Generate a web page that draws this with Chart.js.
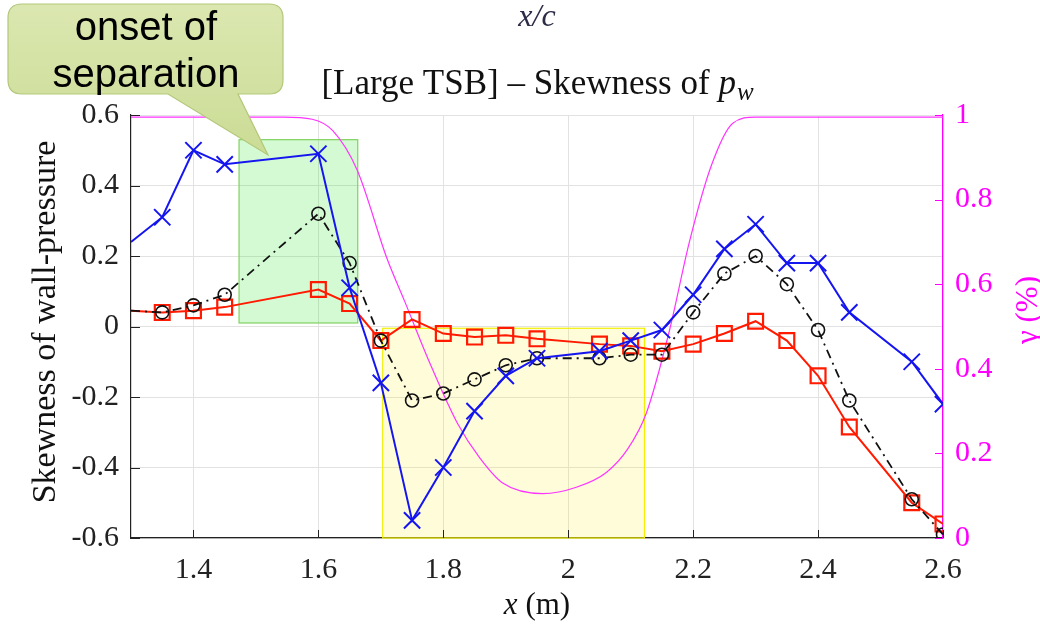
<!DOCTYPE html>
<html><head><meta charset="utf-8">
<script src="https://cdn.jsdelivr.net/npm/chart.js@4/dist/chart.umd.min.js"></script>
<style>html,body{margin:0;padding:0;background:#fff;overflow:hidden}#wrap{width:1040px;height:627px;position:relative}</style>
</head><body><div id="wrap"><canvas id="c" width="1040" height="627"></canvas></div>
<script>
// ---- data ----
const xPos = [1.30,1.35,1.40,1.45,1.60,1.65,1.70,1.75,1.80,1.85,1.90,1.95,2.05,2.10,2.15,2.20,2.25,2.30,2.35,2.40,2.45,2.55,2.60];
const skewBlue  = [0.24,0.31,0.50,0.46,0.49,0.11,-0.16,-0.55,-0.40,-0.24,-0.14,-0.09,-0.07,-0.04,-0.01,0.09,0.22,0.29,0.18,0.18,0.04,-0.10,-0.22];
const skewBlack = [0.045,0.04,0.06,0.09,0.32,0.18,-0.04,-0.21,-0.19,-0.15,-0.11,-0.09,-0.09,-0.08,-0.08,0.04,0.15,0.20,0.12,-0.01,-0.21,-0.49,-0.59];
const skewRed   = [0.045,0.04,0.045,0.055,0.105,0.065,-0.04,0.02,-0.02,-0.03,-0.025,-0.035,-0.05,-0.055,-0.07,-0.05,-0.02,0.015,-0.04,-0.14,-0.285,-0.50,-0.56];
const gammaX = [1.30,1.544,1.59,1.623,1.662,1.71,1.738,1.778,1.823,1.858,1.895,1.959,2.013,2.061,2.095,2.125,2.162,2.194,2.229,2.263,2.30,2.60];
const gammaY = [0.995,0.995,0.99,0.963,0.87,0.66,0.56,0.415,0.27,0.19,0.13,0.105,0.12,0.155,0.21,0.295,0.49,0.70,0.88,0.98,0.995,0.995];
const greenX = [1.473,1.663], greenY = [0.01,0.53];
const yellowX = [1.703,2.122], yellowY = [-0.6,-0.005];
const xTickRange = [1.3,2.6], yTickRange = [-0.6,0.6], y2TickRange = [0,1];
const titleText = '[Large TSB] \u2013 Skewness of ';
const topText = 'x/c';
const calloutLines = ['onset of','separation'];

const pts = (xs, ys) => xs.map((x,i)=>({x:x,y:ys[i]}));
const serif = "'Liberation Serif','DejaVu Serif',serif";
const fmt = v => Number(v.toFixed(2)).toString();
const firstHidden = r => ctx => ctx.dataIndex === 0 ? 0 : r;

const decor = {
  id:'decor',
  beforeDatasetsDraw(chart){
    const {ctx, scales:{x,y}} = chart;
    const box = (xs, ys, fill, stroke) => {
      const x0 = x.getPixelForValue(xs[0]), x1 = x.getPixelForValue(xs[1]);
      const y0 = y.getPixelForValue(ys[1]), y1 = y.getPixelForValue(ys[0]);
      ctx.save(); ctx.fillStyle = fill; ctx.fillRect(x0,y0,x1-x0,y1-y0);
      ctx.strokeStyle = stroke; ctx.lineWidth = 1.2; ctx.strokeRect(x0,y0,x1-x0,y1-y0); ctx.restore();
    };
    box(greenX, greenY, 'rgba(0,225,0,0.17)', '#7fd35f');
    box(yellowX, yellowY, 'rgba(255,238,0,0.15)', '#f2f000');
  },
  afterDraw(chart){
    const {ctx, chartArea:a, scales:{x,y,y2}} = chart;
    ctx.save();
    // inward ticks
    ctx.lineWidth = 1;
    ctx.strokeStyle = '#222';
    y.ticks.forEach(t=>{const p=Math.round(y.getPixelForValue(t.value))+0.5; ctx.beginPath(); ctx.moveTo(a.left,p); ctx.lineTo(a.left+9,p); ctx.stroke();});
    x.ticks.forEach(t=>{const p=Math.round(x.getPixelForValue(t.value))+0.5; ctx.beginPath(); ctx.moveTo(p,a.bottom); ctx.lineTo(p,a.bottom-8); ctx.stroke();});
    ctx.strokeStyle = '#ff00ff';
    y2.ticks.forEach(t=>{const p=Math.round(y2.getPixelForValue(t.value))+0.5; ctx.beginPath(); ctx.moveTo(a.right,p); ctx.lineTo(a.right-8,p); ctx.stroke();});
    // titles
    ctx.fillStyle = '#111';
    ctx.textBaseline = 'alphabetic';
    const TS = 35, TSS = 25;
    ctx.font = TS+'px ' + serif;
    const w1 = ctx.measureText(titleText).width;
    ctx.font = 'italic '+TS+'px ' + serif; const wp = ctx.measureText('p').width;
    ctx.font = 'italic '+TSS+'px ' + serif; const ww = ctx.measureText('w').width;
    let tx = 537 - (w1+wp+ww)/2; const ty = 94;
    ctx.textAlign = 'left';
    ctx.font = TS+'px ' + serif; ctx.fillText(titleText, tx, ty); tx += w1;
    ctx.font = 'italic '+TS+'px ' + serif; ctx.fillText('p', tx, ty); tx += wp;
    ctx.font = 'italic '+TSS+'px ' + serif; ctx.fillText('w', tx+1, ty+6);
    ctx.textAlign = 'center'; ctx.textBaseline = 'middle';
    ctx.fillStyle = '#2c2c46'; ctx.font = 'italic 32px ' + serif; ctx.fillText(topText, 537, 18);
    // x axis title
    ctx.fillStyle = '#111';
    ctx.textAlign = 'left';
    ctx.font = 'italic 31px ' + serif; const wx = ctx.measureText('x').width;
    ctx.font = '31px ' + serif; const wm = ctx.measureText(' (m)').width;
    let xx = 537 - (wx+wm)/2;
    ctx.font = 'italic 31px ' + serif; ctx.fillText('x', xx, 606);
    ctx.font = '31px ' + serif; ctx.fillText(' (m)', xx+wx, 606);
    // left y title
    ctx.save(); ctx.translate(46, 322); ctx.rotate(-Math.PI/2); ctx.textAlign='center';
    ctx.font = '34px ' + serif; ctx.fillText('Skewness of wall-pressure', 0, 0); ctx.restore();
    // right y title (reads bottom to top)
    ctx.save(); ctx.translate(1029, 310); ctx.rotate(-Math.PI/2); ctx.textAlign='center';
    ctx.fillStyle = '#ff00ff'; ctx.font = '31px ' + serif; ctx.fillText('\u03b3 (%)', 0, 0); ctx.restore();
    // callout
    const bx=8, by=4, bw=275, bh=90, r=14;
    ctx.beginPath();
    ctx.moveTo(bx+r,by); ctx.lineTo(bx+bw-r,by); ctx.quadraticCurveTo(bx+bw,by,bx+bw,by+r);
    ctx.lineTo(bx+bw,by+bh-r); ctx.quadraticCurveTo(bx+bw,by+bh,bx+bw-r,by+bh);
    ctx.lineTo(238,by+bh); ctx.lineTo(268,155); ctx.lineTo(168,by+bh);
    ctx.lineTo(bx+r,by+bh); ctx.quadraticCurveTo(bx,by+bh,bx,by+bh-r);
    ctx.lineTo(bx,by+r); ctx.quadraticCurveTo(bx,by,bx+r,by); ctx.closePath();
    const g = ctx.createLinearGradient(0,by,0,155); g.addColorStop(0,'#dbe7b0'); g.addColorStop(1,'#cbdc95');
    ctx.fillStyle = g; ctx.fill(); ctx.strokeStyle = '#b3c77a'; ctx.lineWidth = 1.2; ctx.stroke();
    ctx.fillStyle = '#000'; ctx.textAlign='center'; ctx.textBaseline='alphabetic';
    ctx.font = "40px 'Liberation Sans', Arial, sans-serif";
    ctx.fillText(calloutLines[0], 146, 40);
    ctx.fillText(calloutLines[1], 146, 87);
    ctx.restore();
  }
};

new Chart(document.getElementById('c'), {
  type:'line',
  data:{ datasets:[
    {label:'gamma', data: pts(gammaX,gammaY), yAxisID:'y2', borderColor:'#ff33ff', borderWidth:1.2, pointRadius:0, cubicInterpolationMode:'monotone', clip:0, order:4},
    {label:'red', data: pts(xPos,skewRed), yAxisID:'y', borderColor:'#ff1a00', borderWidth:2, pointStyle:'rect', pointRadius:firstHidden(10.5), pointBorderWidth:2.2, pointBorderColor:'#ff1a00', pointBackgroundColor:'rgba(0,0,0,0)', clip:0, order:3},
    {label:'black', data: pts(xPos,skewBlack), yAxisID:'y', borderColor:'#111', borderWidth:1.8, borderDash:[9,5,2,5], pointStyle:'circle', pointRadius:firstHidden(6.5), pointBorderWidth:1.6, pointBorderColor:'#111', pointBackgroundColor:'rgba(0,0,0,0)', clip:0, order:2},
    {label:'blue', data: pts(xPos,skewBlue), yAxisID:'y', borderColor:'#1515f0', borderWidth:2, pointStyle:'crossRot', pointRadius:firstHidden(11.5), pointBorderWidth:2, pointBorderColor:'#1515f0', clip:0, order:1}
  ]},
  options:{
    responsive:false, animation:false, devicePixelRatio:1,
    layout:{padding:{top:115,left:0,right:0,bottom:0}},
    plugins:{legend:{display:false}, tooltip:{enabled:false}, title:{display:false}},
    scales:{
      x:{type:'linear', min:xTickRange[0], max:xTickRange[1],
         ticks:{stepSize:0.2, includeBounds:false, color:'#222', font:{family:serif,size:30}, padding:14, maxRotation:0, callback:v=>fmt(v)},
         grid:{color:'#e2e2e2', drawTicks:false}, border:{color:'#222', width:1.2},
         afterFit:s=>{s.height=89;}},
      y:{type:'linear', position:'left', min:yTickRange[0], max:yTickRange[1],
         ticks:{stepSize:0.2, color:'#222', font:{family:serif,size:30}, padding:12, callback:v=>fmt(v)},
         grid:{color:'#e2e2e2', drawTicks:false}, border:{color:'#222', width:1.2},
         afterFit:s=>{s.width=131;}},
      y2:{type:'linear', position:'right', min:y2TickRange[0], max:y2TickRange[1],
         ticks:{stepSize:0.2, color:'#ff00ff', font:{family:serif,size:30}, padding:12, callback:v=>fmt(v)},
         grid:{drawOnChartArea:false, drawTicks:false}, border:{color:'#ff00ff', width:1.2},
         afterFit:s=>{s.width=97;}}
    }
  },
  plugins:[decor]
});
</script></body></html>
